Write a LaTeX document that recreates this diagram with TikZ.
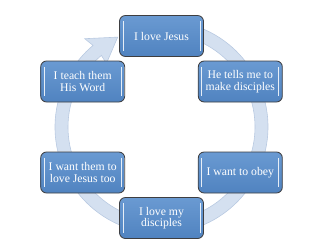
\documentclass[tikz,border=0pt]{standalone}
\usepackage{fontspec}
\setmainfont{Liberation Serif}
\usetikzlibrary{calc}

\definecolor{boxtop}{RGB}{106,154,210}
\definecolor{boxbot}{RGB}{80,131,192}
\definecolor{boxedge}{RGB}{62,62,64}
\definecolor{ringfill}{RGB}{212,224,240}
\definecolor{ringline}{RGB}{184,201,225}

\tikzset{
  cyclebox/.style={draw=boxedge, line width=0.7pt, rounded corners=5pt,
    minimum width=2.52cm, minimum height=1.23cm, align=center, inner sep=2pt,
    top color=boxtop, bottom color=boxbot, text=white,
    font=\fontsize{10}{9.8}\selectfont,
    path picture={
      \draw[white, line width=0.7pt, opacity=0.85]
        ($(path picture bounding box.north west)+(3pt,-5pt)$) --
        ($(path picture bounding box.south west)+(3pt,5pt)$);
      \draw[white, line width=0.7pt, opacity=0.85]
        ($(path picture bounding box.north east)+(-3pt,-5pt)$) --
        ($(path picture bounding box.south east)+(-3pt,5pt)$);
    }}
}

\begin{document}
\begin{tikzpicture}[x=0.03cm, y=0.03cm]
  \useasboundingbox (-161.5,-122) rectangle (158.5,127);

  % Circle center
  \coordinate (O) at (0,0);

  % Circular arrow behind the boxes
  \filldraw[fill=ringfill, draw=ringline, line width=0.5pt]
    (80:106.5) arc (80:-230:106.5) -- (131:117) -- (116:100)
    -- (131:84) -- (130:93.5) arc (-230:80:93.5) -- cycle;

  % Boxes of the cycle
  \node[cyclebox] (jesus) at (90:91) {I love Jesus};
  \node[cyclebox] (tells) at (30:91) {He tells me to\\make disciples};
  \node[cyclebox] (obey) at (-30:91) {I want to obey};
  \node[cyclebox] (mydisc) at (-90:91) {I love my\\disciples};
  \node[cyclebox] (lovetoo) at (210:91) {I want them to\\love Jesus too};
  \node[cyclebox] (teach) at (150:91) {I teach them\\His Word};
\end{tikzpicture}
\end{document}
